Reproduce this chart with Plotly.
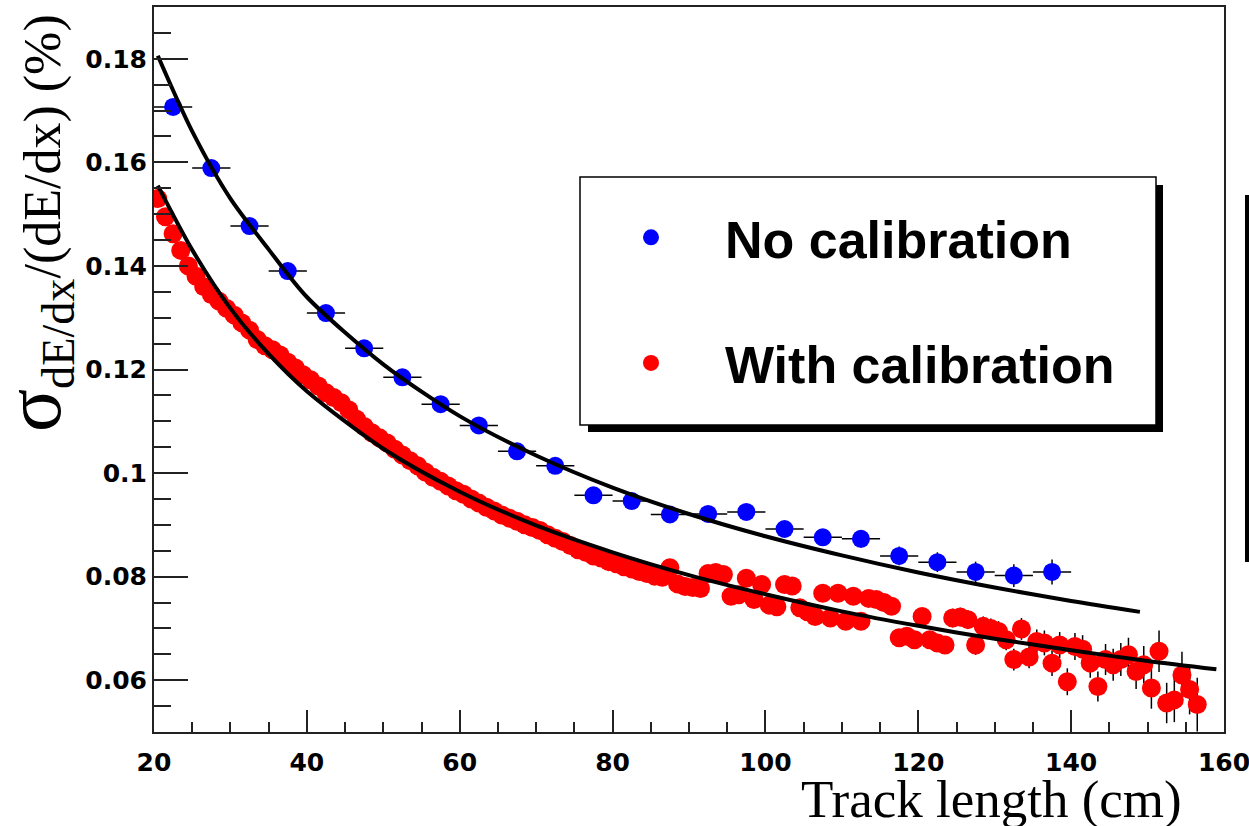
import plotly.graph_objects as go

# ---------------- data ----------------
blue_x = [22.5, 27.5, 32.5, 37.5, 42.5, 47.5, 52.5, 57.5, 62.5, 67.5, 72.5, 77.5,
          82.5, 87.5, 92.5, 97.5, 102.5, 107.5, 112.5, 117.5, 122.5, 127.5, 132.5, 137.5]
blue_y = [0.1707, 0.1589, 0.1477, 0.1390, 0.1309, 0.1241, 0.1185, 0.1133, 0.1092, 0.1042,
          0.1014, 0.0957, 0.0946, 0.0920, 0.0921, 0.0925, 0.0892, 0.0876, 0.0873, 0.0840,
          0.0828, 0.0809, 0.0802, 0.0809]
blue_yerr = [0.0006, 0.0006, 0.0006, 0.0007, 0.0007, 0.0008, 0.0008, 0.0009, 0.0009, 0.0010,
             0.0010, 0.0011, 0.0012, 0.0012, 0.0013, 0.0014, 0.0015, 0.0016, 0.0017, 0.0018,
             0.0019, 0.0020, 0.0022, 0.0024]
blue_xerr = 2.5

red_x = [20.5, 21.5, 22.5, 23.5, 24.5, 25.5, 26.5, 27.5, 28.5, 29.5,
         30.5, 31.5, 32.5, 33.5, 34.5, 35.5, 36.5, 37.5, 38.5, 39.5,
         40.5, 41.5, 42.5, 43.5, 44.5, 45.5, 46.5, 47.5, 48.5, 49.5,
         50.5, 51.5, 52.5, 53.5, 54.5, 55.5, 56.5, 57.5, 58.5, 59.5,
         60.5, 61.5, 62.5, 63.5, 64.5, 65.5, 66.5, 67.5, 68.5, 69.5,
         70.5, 71.5, 72.5, 73.5, 74.5, 75.5, 76.5, 77.5, 78.5, 79.5,
         80.5, 81.5, 82.5, 83.5, 84.5, 85.5, 86.5, 87.5, 88.5, 89.5,
         90.5, 91.5, 92.5, 93.5, 94.5, 95.5, 96.5, 97.5, 98.5, 99.5,
         100.5, 101.5, 102.5, 103.5, 104.5, 105.5, 106.5, 107.5, 108.5, 109.5,
         110.5, 111.5, 112.5, 113.5, 114.5, 115.5, 116.5, 117.5, 118.5, 119.5,
         120.5, 121.5, 122.5, 123.5, 124.5, 125.5, 126.5, 127.5, 128.5, 129.5,
         130.5, 131.5, 132.5, 133.5, 134.5, 135.5, 136.5, 137.5, 138.5, 139.5,
         140.5, 141.5, 142.5, 143.5, 144.5, 145.5, 146.5, 147.5, 148.5, 149.5,
         150.5, 151.5, 152.5, 153.5, 154.5, 155.5, 156.5]
red_y = [0.1530, 0.1495, 0.1462, 0.1430, 0.1400, 0.1380, 0.1360, 0.1345, 0.1332, 0.1318,
         0.1305, 0.1290, 0.1276, 0.1258, 0.1246, 0.1238, 0.1228, 0.1214, 0.1203, 0.1190,
         0.1180, 0.1168, 0.1155, 0.1146, 0.1136, 0.1122, 0.1104, 0.1090, 0.1078, 0.1068,
         0.1058, 0.1046, 0.1035, 0.1024, 0.1014, 0.1002, 0.0992, 0.0984, 0.0975, 0.0966,
         0.0959, 0.0950, 0.0942, 0.0934, 0.0927, 0.0919, 0.0913, 0.0907, 0.0900, 0.0895,
         0.0889, 0.0881, 0.0874, 0.0868, 0.0860, 0.0852, 0.0847, 0.0840, 0.0836, 0.0829,
         0.0825, 0.0819, 0.0815, 0.0810, 0.0806, 0.0801, 0.0799, 0.0817, 0.0786, 0.0781,
         0.0779, 0.0777, 0.0806, 0.0808, 0.0804, 0.0762, 0.0765, 0.0797, 0.0756, 0.0785,
         0.0745, 0.0742, 0.0785, 0.0782, 0.0740, 0.0732, 0.0723, 0.0768, 0.0720, 0.0768,
         0.0714, 0.0762, 0.0714, 0.0758, 0.0756, 0.0750, 0.0743, 0.0682, 0.0685, 0.0678,
         0.0723, 0.0678, 0.0672, 0.0668, 0.0720, 0.0722, 0.0717, 0.0668, 0.0704, 0.0700,
         0.0694, 0.0678, 0.0640, 0.0699, 0.0645, 0.0675, 0.0672, 0.0633, 0.0668, 0.0597,
         0.0665, 0.0660, 0.0633, 0.0588, 0.0640, 0.0630, 0.0640, 0.0649, 0.0617, 0.0630,
         0.0585, 0.0656, 0.0556, 0.0562, 0.0610, 0.0582, 0.0553]
red_yerr = [0.0005, 0.0005, 0.0005, 0.0005, 0.0005, 0.0005, 0.0005, 0.0005, 0.0005, 0.0005,
            0.0005, 0.0005, 0.0005, 0.0005, 0.0005, 0.0005, 0.0005, 0.0005, 0.0005, 0.0005,
            0.0005, 0.0005, 0.0005, 0.0005, 0.0005, 0.0005, 0.0005, 0.0005, 0.0005, 0.0005,
            0.0006, 0.0006, 0.0006, 0.0006, 0.0006, 0.0006, 0.0006, 0.0006, 0.0006, 0.0006,
            0.0006, 0.0006, 0.0006, 0.0006, 0.0006, 0.0006, 0.0006, 0.0006, 0.0006, 0.0006,
            0.0007, 0.0007, 0.0007, 0.0007, 0.0007, 0.0007, 0.0007, 0.0007, 0.0007, 0.0007,
            0.0008, 0.0008, 0.0008, 0.0008, 0.0008, 0.0008, 0.0008, 0.0008, 0.0008, 0.0008,
            0.0009, 0.0009, 0.0010, 0.0010, 0.0010, 0.0010, 0.0010, 0.0011, 0.0011, 0.0011,
            0.0011, 0.0011, 0.0012, 0.0012, 0.0012, 0.0012, 0.0012, 0.0013, 0.0013, 0.0013,
            0.0013, 0.0014, 0.0014, 0.0014, 0.0015, 0.0015, 0.0015, 0.0016, 0.0016, 0.0016,
            0.0016, 0.0017, 0.0017, 0.0017, 0.0018, 0.0018, 0.0018, 0.0019, 0.0019, 0.0019,
            0.0020, 0.0020, 0.0021, 0.0021, 0.0022, 0.0023, 0.0024, 0.0025, 0.0025, 0.0026,
            0.0026, 0.0027, 0.0028, 0.0029, 0.0030, 0.0031, 0.0032, 0.0033, 0.0034, 0.0036,
            0.0040, 0.0040, 0.0039, 0.0043, 0.0045, 0.0048, 0.0052]

# fitted curves
fit_blue_x = [20.5, 25, 30, 35, 40, 50, 60, 70, 80, 90, 100, 110, 120, 130, 140, 149]
fit_blue_y = [0.1806, 0.1660, 0.1530, 0.1432, 0.1340, 0.1210, 0.1110, 0.1034, 0.0972, 0.0921,
              0.0878, 0.0841, 0.0808, 0.0779, 0.0753, 0.0732]
fit_red_x = [20.5, 25, 30, 35, 40, 50, 60, 70, 80, 90, 100, 110, 120, 130, 140, 150, 159]
fit_red_y = [0.1555, 0.1431, 0.1318, 0.1230, 0.1158, 0.1047, 0.0964, 0.0899, 0.0847, 0.0803,
             0.0766, 0.0733, 0.0705, 0.0680, 0.0658, 0.0637, 0.0621]

x_ticks = [20, 40, 60, 80, 100, 120, 140, 160]
x_ticktext = ["20", "40", "60", "80", "100", "120", "140", "160"]
y_ticks = [0.06, 0.08, 0.10, 0.12, 0.14, 0.16, 0.18]
y_ticktext = ["0.06", "0.08", "0.1", "0.12", "0.14", "0.16", "0.18"]

labels = ["No calibration", "With calibration"]

# ---------------- figure ----------------
# body margin is removed by post_script, so figure coords = screen coords
W, H = 1249, 826
L, R, T, B = 154, 25, 7, 94
PW, PH = W - L - R, H - T - B


def px(sx):
    return (sx - L) / PW


def py(sy):
    return (H - B - sy) / PH


fig = go.Figure()

fig.add_trace(go.Scatter(
    x=blue_x, y=blue_y, mode="markers", name=labels[0], legendgroup="a",
    marker=dict(color="#0000ff", size=18, line=dict(width=0)),
    error_x=dict(type="constant", value=blue_xerr, color="black", thickness=1.5, width=0),
    error_y=dict(type="data", array=blue_yerr, color="black", thickness=1.5, width=0),
))
fig.add_trace(go.Scatter(
    x=red_x, y=red_y, mode="markers", name=labels[1], legendgroup="b",
    marker=dict(color="#ff0000", size=19, line=dict(width=0)),
    error_y=dict(type="data", array=red_yerr, color="black", thickness=1.5, width=0),
))
fig.add_trace(go.Scatter(
    x=fit_blue_x, y=fit_blue_y, mode="lines", showlegend=False,
    line=dict(color="black", width=4, shape="spline", smoothing=0.8),
))
fig.add_trace(go.Scatter(
    x=fit_red_x, y=fit_red_y, mode="lines", showlegend=False,
    line=dict(color="black", width=4, shape="spline", smoothing=0.8),
))

axis_common = dict(
    showgrid=False, zeroline=False, showline=True, linecolor="#222222", linewidth=2,
    mirror=True, ticks="inside", tickcolor="#222222", tickwidth=2,
    ticklabeloverflow="allow", automargin=False,
    tickfont=dict(family="DejaVu Sans", size=25, color="black", weight="bold"),
)

fig.update_xaxes(
    range=[20, 160], tickmode="array", tickvals=x_ticks, ticktext=x_ticktext,
    ticklen=22, ticklabelstandoff=7,
    minor=dict(ticks="inside", tick0=20, dtick=5, ticklen=10, tickwidth=2, tickcolor="#222222"),
    **axis_common,
)
fig.update_yaxes(
    range=[0.05, 0.19], tickmode="array", tickvals=y_ticks, ticktext=y_ticktext,
    ticklen=34, ticklabelstandoff=0,
    minor=dict(ticks="inside", tick0=0.05, dtick=0.005, ticklen=17, tickwidth=2, tickcolor="#222222"),
    **axis_common,
)

shapes = [
    # legend shadow
    dict(type="rect", xref="paper", yref="paper", x0=px(588), x1=px(1163), y0=py(432), y1=py(185),
         fillcolor="black", line=dict(width=0), layer="above"),
    # legend box
    dict(type="rect", xref="paper", yref="paper", x0=px(580), x1=px(1156), y0=py(425), y1=py(177),
         fillcolor="white", line=dict(color="black", width=1.5), layer="above"),
    # dark vertical bar at the right edge of the picture
    dict(type="rect", xref="paper", yref="paper", x0=px(1245), x1=px(1249), y0=py(562), y1=py(195),
         fillcolor="black", line=dict(width=0), layer="above"),
]

annotations = [
    dict(text='<span style="font-size:80px">σ</span><span style="font-size:66px"><sub>dE/dx</sub></span>/(dE/dx) (%)',
         xref="paper", yref="paper", x=px(36), y=py(12), xanchor="center", yanchor="top",
         textangle=-90, showarrow=False,
         font=dict(family="Liberation Serif", size=52, color="black")),
    dict(text="Track length (cm)", xref="paper", yref="paper", x=px(1184), y=py(799),
         xanchor="right", yanchor="middle", showarrow=False,
         font=dict(family="Liberation Serif", size=53, color="black")),
]

fig.update_layout(
    width=W, height=H, autosize=False,
    margin=dict(l=L, r=R, t=T, b=B, pad=0, autoexpand=False),
    plot_bgcolor="white", paper_bgcolor="white",
    shapes=shapes, annotations=annotations,
    showlegend=True,
    legend=dict(
        x=px(577), y=py(197), xanchor="left", yanchor="top",
        bgcolor="rgba(0,0,0,0)", borderwidth=0,
        font=dict(family="Liberation Sans", size=52, color="black", weight="bold"),
        itemwidth=138, tracegroupgap=55,
    ),
)

fig.write_html("out.html",
               config={"displayModeBar": False},
               post_script="document.body.style.margin='0px';document.body.style.overflow='hidden';")
